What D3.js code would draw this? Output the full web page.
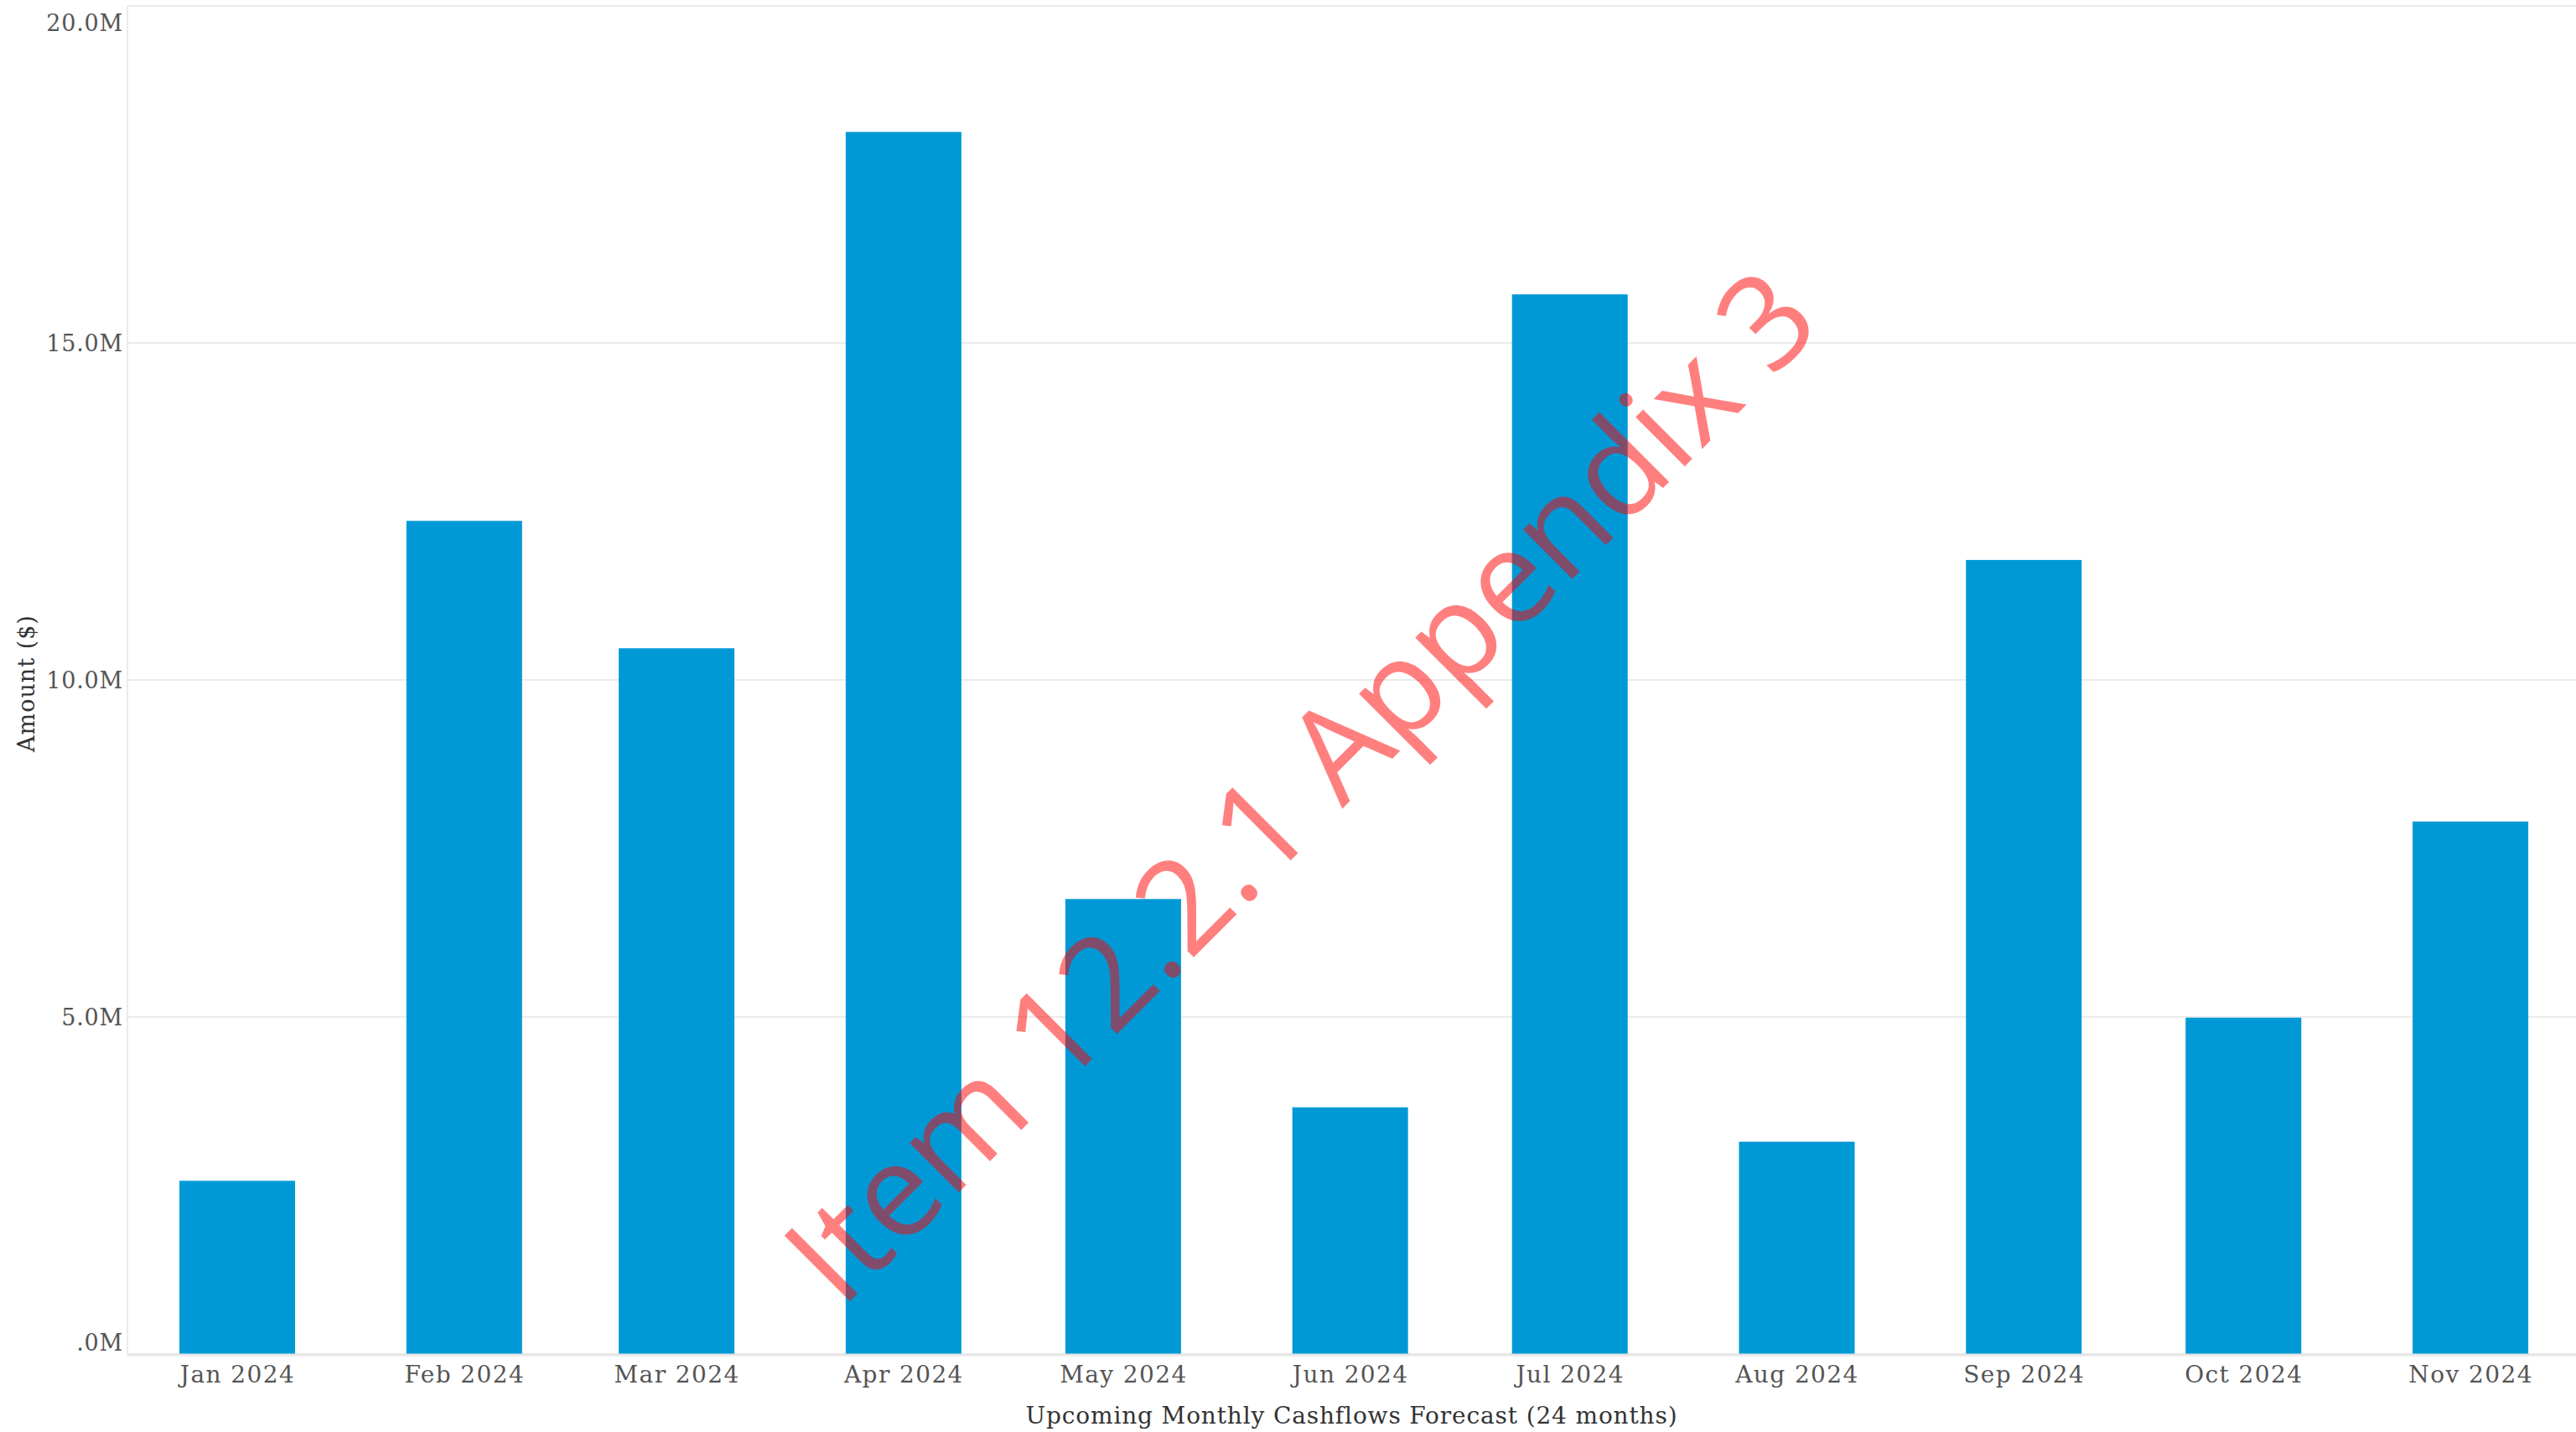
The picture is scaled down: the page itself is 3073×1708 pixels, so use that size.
<!DOCTYPE html>
<html>
<head>
<meta charset="utf-8">
<script src="https://cdn.jsdelivr.net/npm/d3@7"></script>
<style>
  html, body { margin: 0; padding: 0; background: #fff; }
  svg { display: block; }
</style>
</head>
<body>
<svg id="chart" width="3073" height="1708"></svg>
<script>
// ---- data ----
const months = ["2024-01-01","2024-02-01","2024-03-01","2024-04-01","2024-05-01","2024-06-01",
                "2024-07-01","2024-08-01","2024-09-01","2024-10-01","2024-11-01"];
const amounts = [2.57e6, 12.36e6, 10.47e6, 18.13e6, 6.75e6, 3.66e6,
                 15.72e6, 3.15e6, 11.78e6, 4.99e6, 7.90e6];
const yTickValues = [0, 5e6, 10e6, 15e6, 20e6];
const yTickLabels = [".0M", "5.0M", "10.0M", "15.0M", "20.0M"];
const xTitle = "Upcoming Monthly Cashflows Forecast (24 months)";
const yTitle = "Amount ($)";
const watermark = "Item 12.2.1 Appendix 3";

// ---- layout ----
const W = 3073, H = 1708;
const plot = { left: 152, right: 3073, top: 7, bottom: 1615 };
const barColor = "#0099d6";
const gridColor = "#ebebeb";
const textColor = "#555555";
const font = "'DejaVu Serif', serif";
const DAY = 864e5;
const barDays = 15.8;

const svg = d3.select("#chart");
const parse = d3.utcParse("%Y-%m-%d");
const data = months.map((m, i) => ({ date: parse(m), value: amounts[i] }));

const x = d3.scaleUtc()
  .domain([Date.UTC(2023, 11, 17), Date.UTC(2024, 10, 15, 10)])
  .range([plot.left, plot.right]);
const y = d3.scaleLinear().domain([0, 20e6]).range([plot.bottom, plot.top]);

// gridlines
svg.append("g")
  .selectAll("line")
  .data(yTickValues)
  .join("line")
  .attr("x1", plot.left).attr("x2", plot.right)
  .attr("y1", d => y(d)).attr("y2", d => y(d))
  .attr("stroke", gridColor).attr("stroke-width", 2);

// left border
svg.append("line")
  .attr("x1", plot.left).attr("x2", plot.left)
  .attr("y1", plot.top).attr("y2", plot.bottom)
  .attr("stroke", gridColor).attr("stroke-width", 2);

// bars
const bw = x(new Date(Date.UTC(2024,0,1) + barDays * DAY)) - x(new Date(Date.UTC(2024,0,1)));
svg.append("g")
  .selectAll("rect")
  .data(data)
  .join("rect")
  .attr("x", d => x(d.date) - bw / 2)
  .attr("width", bw)
  .attr("y", d => y(d.value))
  .attr("height", d => y(0) - y(d.value))
  .attr("fill", barColor);

// bottom axis line
svg.append("line")
  .attr("x1", plot.left).attr("x2", plot.right)
  .attr("y1", plot.bottom + 1).attr("y2", plot.bottom + 1)
  .attr("stroke", "#e6e6e6").attr("stroke-width", 3);

// y axis labels
const yAxis = d3.axisLeft(y)
  .tickValues(yTickValues)
  .tickFormat((d, i) => yTickLabels[i])
  .tickSize(0)
  .tickPadding(0);
const gy = svg.append("g").attr("transform", `translate(${plot.left - 5},0)`).call(yAxis);
gy.select(".domain").remove();
gy.selectAll(".tick")
  .attr("transform", d => `translate(0,${Math.min(Math.max(y(d), plot.top + 20), plot.bottom - 14)})`);
gy.selectAll("text")
  .attr("font-family", font).attr("font-size", 27).attr("letter-spacing", 0.8)
  .attr("fill", textColor).attr("x", 0).attr("dy", "0.36em");

// x axis labels
const xAxis = d3.axisBottom(x)
  .tickValues(data.map(d => d.date))
  .tickFormat(d3.utcFormat("%b %Y"))
  .tickSize(0)
  .tickPadding(0);
const gx = svg.append("g").attr("transform", `translate(0,${plot.bottom})`).call(xAxis);
gx.select(".domain").remove();
gx.selectAll("text")
  .attr("font-family", font).attr("font-size", 28).attr("letter-spacing", 1.4)
  .attr("fill", textColor).attr("y", 24).attr("dy", "0.36em");

// axis titles
svg.append("text")
  .attr("x", (plot.left + plot.right) / 2).attr("y", 1688)
  .attr("dy", "0.36em")
  .attr("text-anchor", "middle")
  .attr("font-family", font).attr("font-size", 28).attr("letter-spacing", 0.85)
  .attr("fill", "#333").text(xTitle);

svg.append("text")
  .attr("transform", "translate(31,815) rotate(-90)")
  .attr("dy", "0.36em")
  .attr("text-anchor", "middle")
  .attr("font-family", font).attr("font-size", 27).attr("letter-spacing", 1)
  .attr("fill", "#333").text(yTitle);

// watermark
svg.append("text")
  .attr("transform", "translate(1590,976) rotate(-45)")
  .attr("text-anchor", "middle")
  .attr("font-family", "'Open Sans', sans-serif")
  .attr("font-size", 155)
  .attr("fill", "#ff0000").attr("fill-opacity", 0.5)
  .text(watermark);
</script>
</body>
</html>
